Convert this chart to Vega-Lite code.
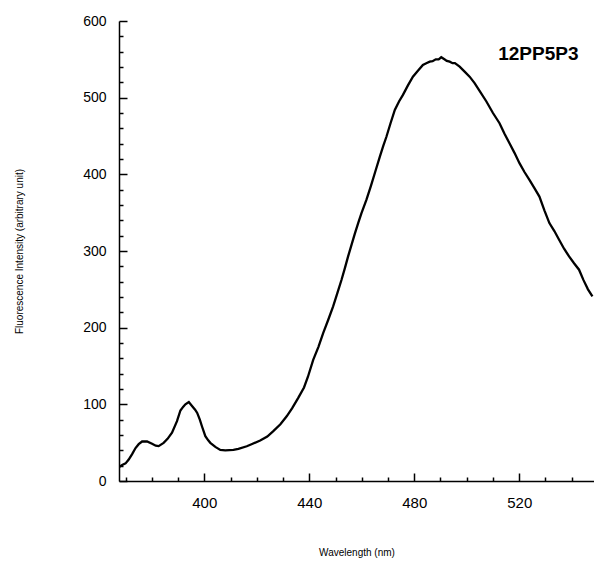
{
  "$schema": "https://vega.github.io/schema/vega-lite/v6.json",
  "autosize": "none",
  "width": 475,
  "height": 460,
  "padding": {"left": 119, "top": 21, "right": 0, "bottom": 80},
  "background": "white",
  "config": {
    "view": {"stroke": null},
    "font": "Liberation Sans",
    "axis": {
      "domainColor": "black",
      "domainWidth": 1.5,
      "tickColor": "black",
      "tickWidth": 1.5,
      "labelColor": "black",
      "titleColor": "black",
      "labelFont": "Liberation Sans",
      "titleFont": "Liberation Sans",
      "titleFontWeight": "normal",
      "titleFontSize": 10,
      "grid": false
    }
  },
  "datasets": {
    "spectrum": [
      {"wl": 367.7, "v": 18.5}, {"wl": 368.7, "v": 21}, {"wl": 370, "v": 23}, {"wl": 371.2, "v": 28},
      {"wl": 372.5, "v": 35}, {"wl": 373.8, "v": 43}, {"wl": 375, "v": 48}, {"wl": 376.3, "v": 51.5},
      {"wl": 378.2, "v": 51.5}, {"wl": 380.1, "v": 48.5}, {"wl": 381.5, "v": 46}, {"wl": 382.6, "v": 45.5},
      {"wl": 384.5, "v": 49.7}, {"wl": 386, "v": 55}, {"wl": 387.7, "v": 63}, {"wl": 389.6, "v": 78},
      {"wl": 390.9, "v": 92}, {"wl": 392, "v": 97}, {"wl": 392.8, "v": 100}, {"wl": 394.1, "v": 103},
      {"wl": 395.4, "v": 97.5}, {"wl": 396.5, "v": 93}, {"wl": 397.3, "v": 88.8}, {"wl": 398.3, "v": 80},
      {"wl": 399.1, "v": 71.4}, {"wl": 400.4, "v": 58.4}, {"wl": 401.5, "v": 53}, {"wl": 402.3, "v": 49.8},
      {"wl": 404.2, "v": 44.5}, {"wl": 406.1, "v": 40.6}, {"wl": 408, "v": 40}, {"wl": 411.1, "v": 40.6},
      {"wl": 413, "v": 42}, {"wl": 416.2, "v": 45.3}, {"wl": 418, "v": 48}, {"wl": 421.3, "v": 52.8},
      {"wl": 424, "v": 58}, {"wl": 426.3, "v": 65}, {"wl": 429, "v": 74}, {"wl": 431.4, "v": 84.4},
      {"wl": 433.5, "v": 95}, {"wl": 435.8, "v": 108.4}, {"wl": 438, "v": 122}, {"wl": 439.5, "v": 136},
      {"wl": 441.5, "v": 158}, {"wl": 443.5, "v": 175}, {"wl": 445.3, "v": 193}, {"wl": 447.2, "v": 210},
      {"wl": 449.1, "v": 227.7}, {"wl": 450.7, "v": 245}, {"wl": 452.3, "v": 262.5}, {"wl": 453.6, "v": 278},
      {"wl": 454.8, "v": 293}, {"wl": 456.1, "v": 308}, {"wl": 457.4, "v": 323}, {"wl": 458.7, "v": 337},
      {"wl": 459.9, "v": 349.4}, {"wl": 461.8, "v": 367}, {"wl": 463.5, "v": 385}, {"wl": 465.2, "v": 404},
      {"wl": 466.9, "v": 423}, {"wl": 468.2, "v": 437}, {"wl": 469.4, "v": 449}, {"wl": 471, "v": 467},
      {"wl": 472.6, "v": 484}, {"wl": 474.2, "v": 495}, {"wl": 475.7, "v": 503.6}, {"wl": 477.6, "v": 516},
      {"wl": 479.5, "v": 527.4}, {"wl": 481.4, "v": 535}, {"wl": 483.3, "v": 542.7}, {"wl": 484.6, "v": 545},
      {"wl": 485.9, "v": 547}, {"wl": 487, "v": 547.5}, {"wl": 488.2, "v": 550}, {"wl": 489.3, "v": 550},
      {"wl": 490.3, "v": 552.7}, {"wl": 491.5, "v": 550}, {"wl": 492.4, "v": 548}, {"wl": 493.5, "v": 547},
      {"wl": 494.6, "v": 545}, {"wl": 495.5, "v": 545}, {"wl": 497.3, "v": 540.5}, {"wl": 499.2, "v": 534},
      {"wl": 501.1, "v": 527.4}, {"wl": 503, "v": 519}, {"wl": 504.9, "v": 509}, {"wl": 507.5, "v": 495},
      {"wl": 510, "v": 480}, {"wl": 512.5, "v": 466.7}, {"wl": 514.4, "v": 453}, {"wl": 516.3, "v": 440.6},
      {"wl": 518.2, "v": 428}, {"wl": 520.1, "v": 414.6}, {"wl": 522, "v": 403}, {"wl": 523.9, "v": 392.8},
      {"wl": 525.8, "v": 382}, {"wl": 527.7, "v": 371}, {"wl": 529.6, "v": 353}, {"wl": 531.5, "v": 336.4},
      {"wl": 533.4, "v": 326}, {"wl": 535.2, "v": 314.7}, {"wl": 537.1, "v": 303}, {"wl": 539, "v": 292.9},
      {"wl": 540.9, "v": 284}, {"wl": 542.8, "v": 275.6}, {"wl": 544.5, "v": 262}, {"wl": 546.2, "v": 250},
      {"wl": 547.9, "v": 240.8}
    ],
    "label": [{"wl": 527.3, "v": 548.5, "name": "12PP5P3"}]
  },
  "encoding": {
    "x": {
      "field": "wl", "type": "quantitative",
      "scale": {"domain": [367.5, 548.5], "nice": false, "zero": false},
      "axis": {
        "title": "Wavelength (nm)",
        "orient": "bottom",
        "values": [370, 380, 390, 400, 410, 420, 430, 440, 450, 460, 470, 480, 490, 500, 510, 520, 530, 540],
        "labelExpr": "datum.value % 40 === 0 ? datum.label : ''",
        "labelFontSize": 15,
        "labelPadding": 22,
        "labelOverlap": false,
        "tickSize": {"condition": {"test": "datum.value % 40 === 0", "value": -8}, "value": -4},
        "titlePadding": 33
      }
    },
    "y": {
      "field": "v", "type": "quantitative",
      "scale": {"domain": [0, 600], "nice": false},
      "axis": {
        "title": "Fluorescence Intensity (arbitrary unit)",
        "values": [0, 20, 40, 60, 80, 100, 120, 140, 160, 180, 200, 220, 240, 260, 280, 300, 320, 340, 360, 380, 400, 420, 440, 460, 480, 500, 520, 540, 560, 580, 600],
        "labelExpr": "datum.value % 100 === 0 ? datum.label : ''",
        "labelFontSize": 14,
        "labelPadding": 21,
        "labelOverlap": false,
        "tickSize": {"condition": {"test": "datum.value % 100 === 0", "value": -8}, "value": -4},
        "titlePadding": 58
      }
    }
  },
  "layer": [
    {
      "data": {"name": "spectrum"},
      "mark": {"type": "line", "color": "black", "strokeWidth": 2.3, "clip": true}
    },
    {
      "data": {"name": "label"},
      "mark": {"type": "text", "font": "Liberation Sans", "fontWeight": "bold", "fontSize": 19, "align": "center", "baseline": "alphabetic", "color": "black"},
      "encoding": {
        "text": {"field": "name"}
      }
    }
  ]
}
